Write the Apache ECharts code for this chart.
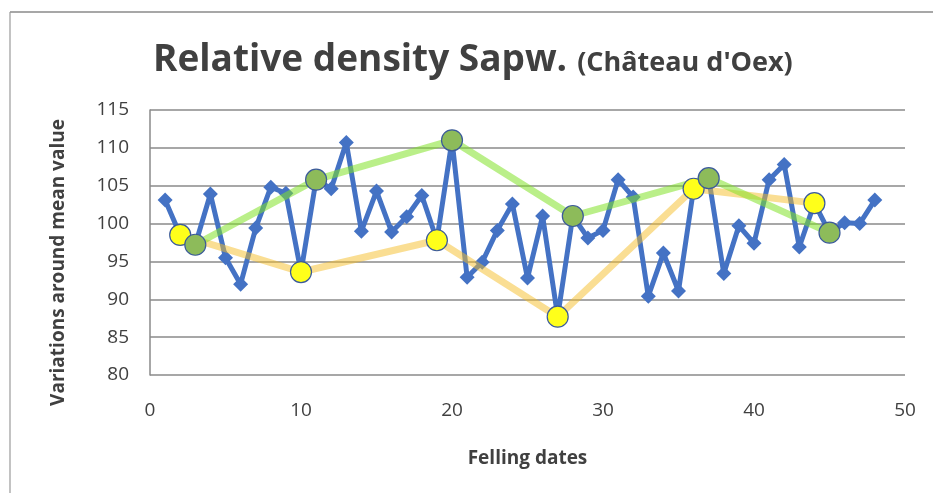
<!DOCTYPE html>
<html>
<head>
<meta charset="utf-8">
<title>Relative density Sapw.</title>
<script src="https://cdn.jsdelivr.net/npm/echarts@6/dist/echarts.min.js"></script>
<style>
  html, body { margin: 0; padding: 0; background: #fff; }
  #main { width: 933px; height: 493px; }
</style>
</head>
<body>
<div id="main"></div>
<script>
// valeurs
var dates = [1,2,3,4,5,6,7,8,9,10,11,12,13,14,15,16,17,18,19,20,21,22,23,24,
             25,26,27,28,29,30,31,32,33,34,35,36,37,38,39,40,41,42,43,44,45,46,47,48];
var density = [103.1, 98.5, 97.2, 103.9, 95.5, 92.0, 99.4, 104.8, 104.0, 93.6, 105.8, 104.6,
               110.7, 99.0, 104.3, 98.9, 100.9, 103.7, 97.8, 111.0, 92.9, 94.9, 99.1, 102.6,
               92.8, 101.0, 87.7, 101.0, 98.1, 99.1, 105.8, 103.5, 90.4, 96.1, 91.1, 104.6,
               106.0, 93.4, 99.7, 97.4, 105.8, 107.8, 96.9, 102.7, 98.8, 100.1, 100.0, 103.1];
// minima (jaune) et maxima (vert)
var lowDates = [2, 10, 19, 27, 36, 44];
var lowValues = [98.5, 93.6, 97.8, 87.7, 104.6, 102.7];
var highDates = [3, 11, 20, 28, 37, 45];
var highValues = [97.2, 105.8, 111.0, 101.0, 106.0, 98.8];
var yTicks = [80, 85, 90, 95, 100, 105, 110, 115];

function pairs(xs, ys) {
  var res = [];
  for (var i = 0; i < xs.length; i++) {
    res.push([xs[i], ys[i]]);
  }
  return res;
}

var chart = echarts.init(document.getElementById('main'));
var txt = '#404040';
var font = '"Open Sans", "DejaVu Sans", sans-serif';

var option = {
  animation: false,
  backgroundColor: '#fff',
  title: {
    left: 148,
    top: 37,
    text: '{a|Relative density Sapw.}  {b|(Château d\'Oex)}',
    textStyle: {
      rich: {
        a: { fontSize: 37, fontWeight: 'bold', color: txt, fontFamily: font },
        b: { fontSize: 27, fontWeight: 'bold', color: txt, fontFamily: font, padding: [6, 0, 0, 0] }
      }
    }
  },
  graphic: [
    { type: 'line', shape: { x1: 10, y1: 12, x2: 933, y2: 12 }, style: { stroke: '#8a8a8a', lineWidth: 1.5 } },
    { type: 'line', shape: { x1: 10, y1: 12, x2: 10, y2: 493 }, style: { stroke: '#9a9a9a', lineWidth: 1.2 } }
  ],
  grid: { left: 150, right: 28, top: 110, bottom: 118 },
  xAxis: {
    type: 'value',
    min: 0, max: 50, interval: 10,
    name: 'Felling dates',
    nameLocation: 'middle',
    nameGap: 74,
    nameTextStyle: { fontSize: 19, fontWeight: 'bold', color: txt, fontFamily: font, verticalAlign: 'top' },
    axisLine: { show: false },
    axisTick: { show: false },
    splitLine: { show: false },
    axisLabel: { fontSize: 19, color: txt, fontFamily: font, margin: 26 }
  },
  yAxis: {
    type: 'value',
    min: yTicks[0], max: yTicks[yTicks.length - 1], interval: 5,
    name: 'Variations around mean value',
    nameLocation: 'middle',
    nameGap: 82,
    // décalé vers le bas comme sur l'original
    nameTextStyle: { fontSize: 19, fontWeight: 'bold', color: txt, fontFamily: font, padding: [0, 40, 0, 0] },
    axisLine: { show: true, lineStyle: { color: '#8a8a8a', width: 1.5 } },
    axisTick: { show: false },
    splitLine: { lineStyle: { color: '#8a8a8a', width: 1.5 } },
    axisLabel: { fontSize: 19, color: txt, fontFamily: font, margin: 21 }
  },
  series: [
    {
      name: 'density',
      type: 'line',
      data: pairs(dates, density),
      symbol: 'diamond',
      symbolSize: 15,
      lineStyle: { color: '#4472c4', width: 5 },
      itemStyle: { color: '#4472c4' },
      z: 2
    },
    {
      name: 'low',
      type: 'line',
      data: pairs(lowDates, lowValues),
      symbol: 'circle',
      symbolSize: 21,
      lineStyle: { color: 'rgba(245, 190, 40, 0.5)', width: 7 },
      itemStyle: { color: '#ffff1a', borderColor: '#3b5a9a', borderWidth: 1.2 },
      z: 3
    },
    {
      name: 'high',
      type: 'line',
      data: pairs(highDates, highValues),
      symbol: 'circle',
      symbolSize: 21,
      lineStyle: { color: 'rgba(130, 225, 40, 0.55)', width: 7 },
      itemStyle: { color: '#8dbb5a', borderColor: '#3b5a9a', borderWidth: 1.2 },
      z: 3
    }
  ]
};
chart.setOption(option);
</script>
</body>
</html>
